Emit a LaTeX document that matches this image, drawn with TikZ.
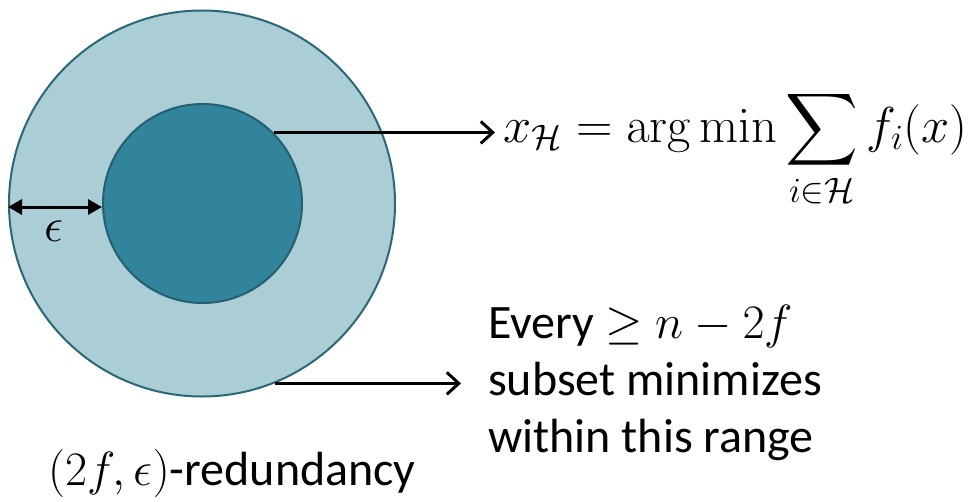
\RequirePackage{fix-cm}
\documentclass[tikz,border=0pt]{standalone}
\usepackage[no-math]{fontspec}
\setmainfont{Carlito}
\DeclareFontFamily{OMX}{cmex}{}
\DeclareFontShape{OMX}{cmex}{m}{n}{<-> cmex10}{}
\usetikzlibrary{arrows.meta}
\definecolor{outerfill}{HTML}{ABCDD5}
\definecolor{outerline}{HTML}{2A6878}
\definecolor{innerfill}{HTML}{31849B}
\definecolor{innerline}{HTML}{255F70}
\begin{document}
\begin{tikzpicture}[x=1pt,y=-1pt,
  ring/.style={circle,inner sep=0pt,line width=2pt},
  callout/.style={line width=3pt,-{Straight Barb[length=12pt,width=22pt]}},
  gap/.style={line width=3pt,{Triangle[length=14pt,width=15pt]}-{Triangle[length=14pt,width=15pt]}},
  lbl/.style={inner sep=0pt,font=\fontsize{48}{57}\selectfont},
  mathlbl/.style={inner sep=0pt,font=\fontsize{50.5}{60}\selectfont}]
\useasboundingbox (0,0) rectangle (968,501);
\node[ring,draw=outerline,fill=outerfill,minimum size=386pt] (outer) at (202,203.5) {};
\node[ring,draw=innerline,fill=innerfill,minimum size=199pt] (inner) at (202.5,203.5) {};
\draw[gap] ([yshift=-3.5pt]outer.west) -- ([yshift=-3.5pt]inner.west);
\node[lbl] (eps) at (54,231) {$\epsilon$};
\node[mathlbl,anchor=base west] (formula) at (503,142)
  {$\displaystyle x_{\mathcal{H}} = \arg\min \sum_{i\in\mathcal{H}} f_i(x)$};
\node[lbl,anchor=base west] (every) at (488,338) {Every $\geq n-2f$};
\node[lbl,anchor=base west] (subset) at (488,395) {subset minimizes};
\node[lbl,anchor=base west] (within) at (488,452) {within this range};
\node[lbl,anchor=base west] (red) at (48,485) {$(2f,\epsilon)$-redundancy};
\draw[callout,shorten >=8pt] (inner.45) -- (inner.45 -| formula.west);
\draw[callout,shorten >=27pt] (outer.-68.7) -- (outer.-68.7 -| subset.west);
\end{tikzpicture}
\end{document}
